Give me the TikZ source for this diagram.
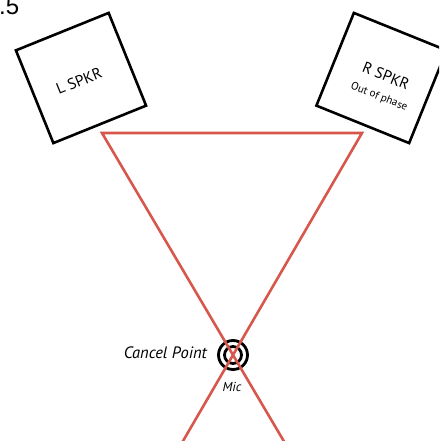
\documentclass[tikz,border=0pt]{standalone}
\usepackage{fontspec}
\setmainfont{PT Sans}
\newfontfamily\numfont{Liberation Sans}
\usetikzlibrary{calc}
\definecolor{beamred}{RGB}{214,88,76}
\tikzset{
  spkr/.style={draw=black, line width=2.6pt, minimum size=100pt, inner sep=0pt},
  beam/.style={draw=beamred, line width=2.6pt, line join=miter},
  ring/.style={draw=black, line width=2.8pt},
  lbl/.style={inner sep=0pt, font=\fontsize{15.5}{17}\selectfont},
}
\begin{document}
\begin{tikzpicture}[x=1pt,y=-1pt]
\useasboundingbox (0,0) rectangle (439,441);
\clip (0,0) rectangle (439,441);
\node[anchor=base west, inner sep=0pt, font=\numfont\fontsize{24}{26}\selectfont] (num) at (-1,15) {.5};
\node[spkr, rotate=22] (L) at (81,78) {};
\node[spkr, rotate=-22] (R) at (381.5,78) {};
\node[lbl, rotate=22] (Lt) at (79,81) {L SPKR};
\node[lbl, rotate=-22] (Rt) at (386,76) {R SPKR};
\node[inner sep=0pt, rotate=-22, font=\fontsize{11}{13}\selectfont] (Rs) at (379,97) {Out of phase};
\coordinate (mic) at (233,355);
\draw[ring] (mic) circle (14.5);
\draw[ring] (mic) circle (8.5);
\coordinate (lp) at (102,133);
\coordinate (rp) at (362,133);
\coordinate (le) at ($(lp)!1.5!(mic)$);
\coordinate (re) at ($(rp)!1.5!(mic)$);
\draw[beam] (le) -- (lp) -- (rp) -- (re);
\node[anchor=east, inner sep=0pt, font=\itshape\fontsize{16.5}{18}\selectfont] (cp) at (207,353) {Cancel Point};
\node[inner sep=0pt, font=\itshape\fontsize{13}{15}\selectfont] (mt) at (232,387) {Mic};
\end{tikzpicture}
\end{document}
